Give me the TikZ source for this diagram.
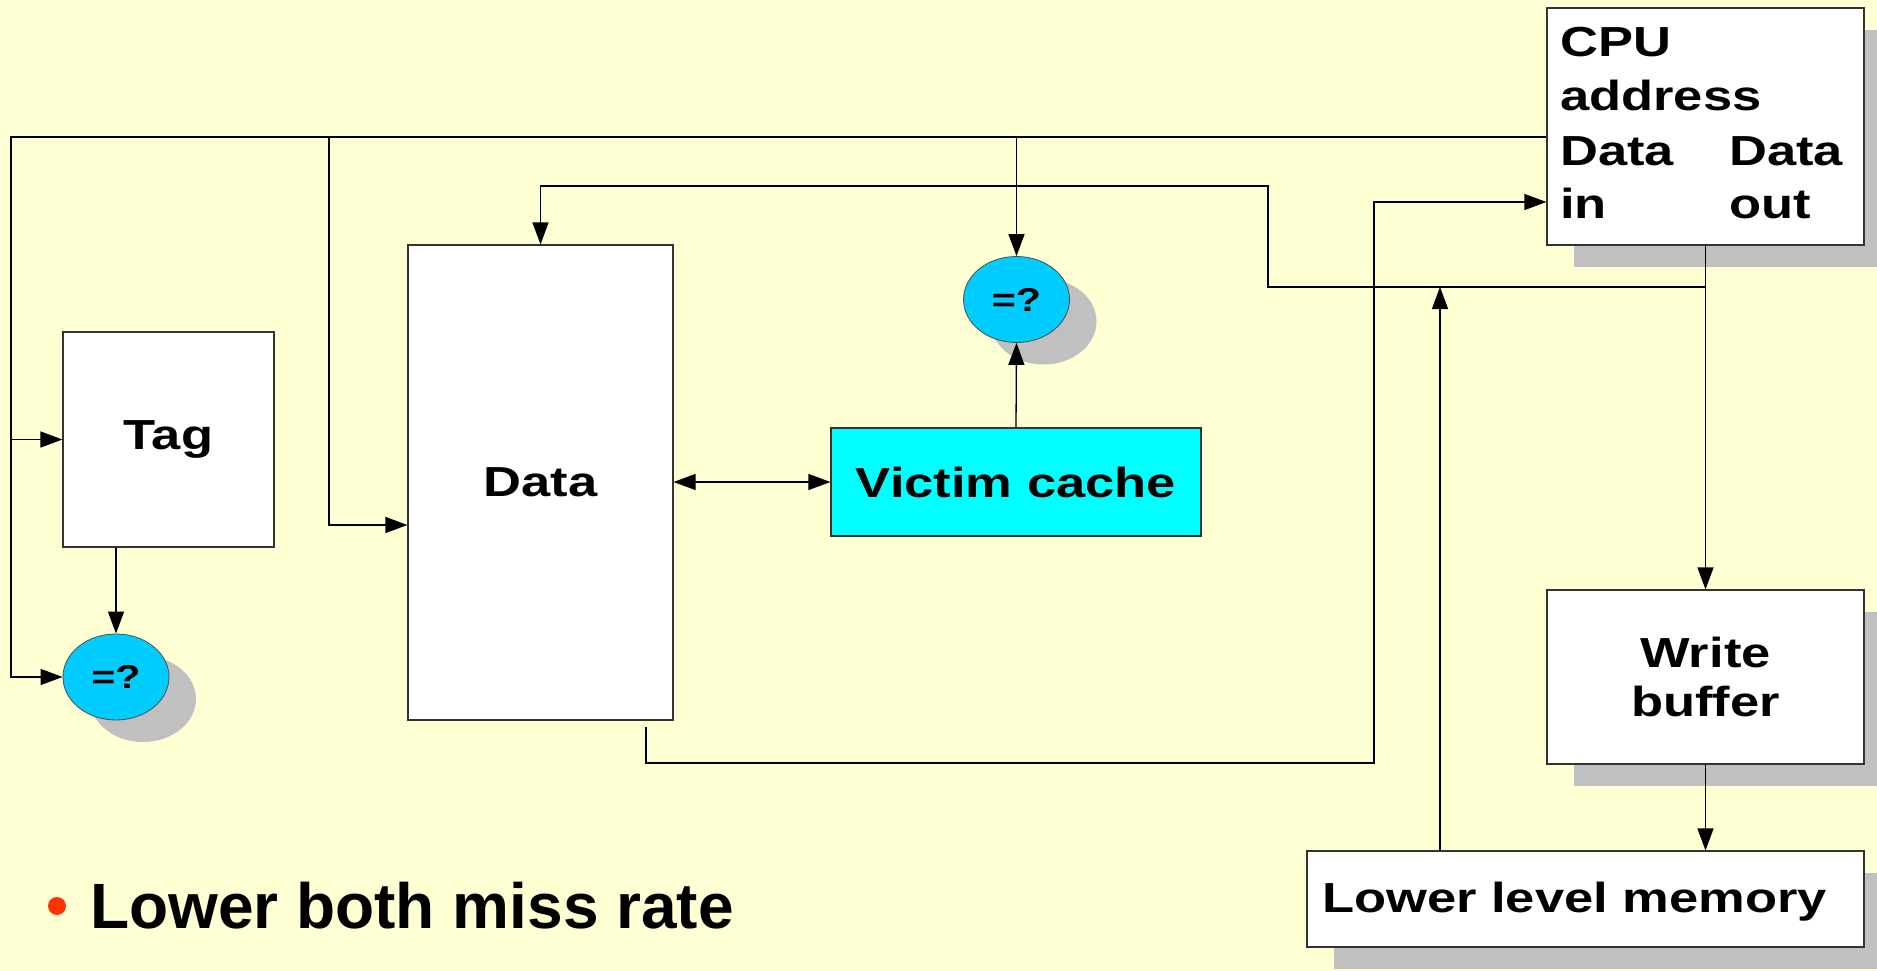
\documentclass[tikz,border=0pt]{standalone}
\usepackage{fontspec}
\setmainfont{Liberation Sans}
\newfontfamily\boxfont[FakeStretch=1.25]{Liberation Sans}
\usetikzlibrary{shapes.geometric,shadows,arrows.meta}
\definecolor{slidebg}{HTML}{FFFFD4}
\definecolor{shadowgrey}{HTML}{C0C0C0}
\definecolor{cmpblue}{HTML}{00CCFF}
\definecolor{victimcyan}{HTML}{00FFFF}
\definecolor{bulletred}{HTML}{FF3300}
\tikzset{
  blockbox/.style={draw=black!80, line width=1.2pt, fill=white, inner sep=0pt},
  dropsh/.style={drop shadow={shadow xshift=27pt, shadow yshift=-22pt, fill=shadowgrey, opacity=1}},
  cmpnode/.style={ellipse, draw=black!70, line width=0.8pt, fill=cmpblue, inner sep=0pt,
    minimum width=106pt, minimum height=86pt, dropsh,
    font=\boxfont\bfseries\fontsize{33}{38}\selectfont},
  boxtext/.style={inner sep=0pt, font=\boxfont\bfseries\fontsize{42}{49}\selectfont},
  wire/.style={draw=black, line width=1.3pt},
  arr/.style={-{Triangle[length=22pt,width=16pt]}},
  dblarr/.style={{Triangle[length=22pt,width=16pt]}-{Triangle[length=22pt,width=16pt]}}
}
\begin{document}
\begin{tikzpicture}[x=1pt,y=-1pt]
  % slide background
  \fill[slidebg] (0,0) rectangle (1877,971);
  \useasboundingbox (0,0) rectangle (1877,971);

  % blocks
  \node[blockbox, dropsh, minimum width=317pt, minimum height=237pt] (cpu) at (1705.5,126.5) {};
  \node[blockbox, dropsh, minimum width=317pt, minimum height=174pt] (wb) at (1705.5,677) {};
  \node[blockbox, dropsh, minimum width=557pt, minimum height=96pt] (llm) at (1585.5,899) {};
  \node[blockbox, minimum width=211pt, minimum height=215pt] (tag) at (168.5,439.5) {};
  \node[blockbox, minimum width=265pt, minimum height=475pt] (data) at (540.5,482.5) {};
  \node[blockbox, fill=victimcyan, minimum width=370pt, minimum height=108pt] (victim) at (1016,482) {};

  % comparators
  \node[cmpnode] (cmpT) at (116,677) {=?};
  \node[cmpnode] (cmpV) at (1016.5,299.5) {=?};

  % block labels
  \node[boxtext] (tagtxt) at (tag.center) {Tag};
  \node[boxtext] (datatxt) at (data.center) {Data};
  \node[boxtext] (victimtxt) at (victim.center) {Victim cache};
  \node[boxtext, align=center] (wbtxt) at (wb.center) {Write\\buffer};
  \node[boxtext, anchor=base west] (llmtxt) at (1322,912) {Lower level memory};
  \node[boxtext, anchor=base west] (cpu1) at (1560,57) {CPU};
  \node[boxtext, anchor=base west] (cpu2) at (1560,111) {address};
  \node[boxtext, anchor=base west] (cpu3) at (1560,165) {Data};
  \node[boxtext, anchor=base west] (cpu4) at (1560,218) {in};
  \node[boxtext, anchor=base west] (cpu5) at (1729,165) {Data};
  \node[boxtext, anchor=base west] (cpu6) at (1729,218) {out};

  % bend points of the buses
  \coordinate (addrL) at (11,137);
  \coordinate (addrD) at (329,137);
  \coordinate (outL) at (1268,287);
  \coordinate (outT) at (1268,186);
  \coordinate (memUp) at (1440,287);
  \coordinate (inA) at (646,727);
  \coordinate (inB) at (646,763);
  \coordinate (inC) at (1374,202);

  % CPU address bus
  \draw[wire, arr] (cpu.north west |- addrL) -- (addrL) |- (cmpT.west);
  \draw[wire, arr] (addrL |- tag.west) -- (tag.west);
  \draw[wire, arr] (addrD) |- ([yshift=-42.5pt]data.west);
  \draw[wire, arr] (cmpV.north |- addrL) -- (cmpV.north);

  % comparisons and victim swap
  \draw[wire, arr] (cmpT.north |- tag.south) -- (cmpT.north);
  \draw[wire, arr] (victim.north) -- (cmpV.south);
  \draw[wire, dblarr] (data.east |- victim.west) -- (victim.west);

  % data out path
  \draw[wire, arr] (cpu.south) -- (wb.north);
  \draw[wire, arr] (cpu.south |- outL) -- (outL) |- (data.north |- outT) -- (data.north);
  \draw[wire, arr] (wb.south) -- (wb.south |- llm.north);
  \draw[wire, arr] (memUp |- llm.north) -- (memUp);

  % data in path
  \draw[wire, arr] (inA) -- (inB) -| (inC) -- (cpu.north west |- inC);

  % bullet line
  \fill[bulletred] (57,906) circle (9pt);
  \node[inner sep=0pt, anchor=base west, font=\bfseries\fontsize{64}{76}\selectfont] (bullet) at (90,928) {Lower both miss rate};
\end{tikzpicture}
\end{document}
